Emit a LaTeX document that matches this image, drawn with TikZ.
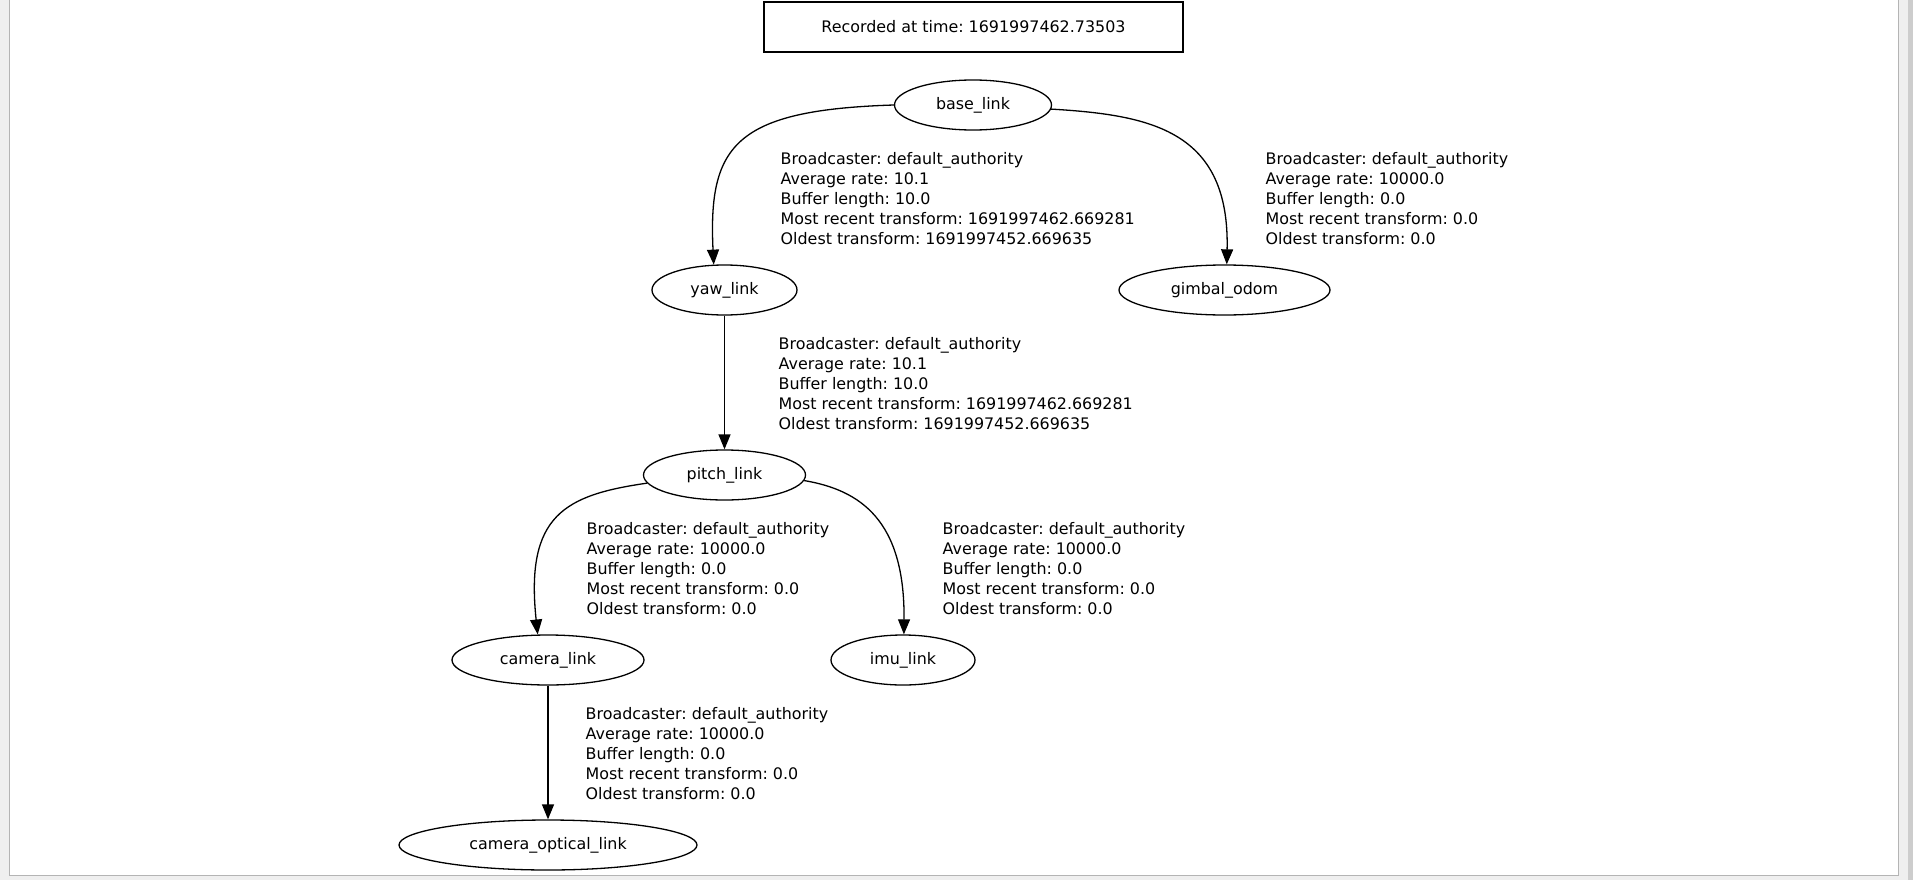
\documentclass[tikz,border=0pt]{standalone}
\usepackage{fontspec}
\setmainfont{DejaVu Sans}
\frenchspacing
\usetikzlibrary{shapes.geometric,arrows.meta}
\definecolor{panelgray}{HTML}{EFEFEF}
\definecolor{frameline}{HTML}{B4B4B4}
\definecolor{scrollgray}{HTML}{CDCDCD}
\begin{document}
\begin{tikzpicture}[x=1pt,y=-1pt,
  every node/.style={font=\fontsize{15.9pt}{20pt}\selectfont},
  link/.style={ellipse, draw, line width=1.3pt, minimum height=50pt, inner sep=0pt},
  titlebox/.style={rectangle, draw, line width=1.3pt, minimum width=419pt, minimum height=50pt, inner sep=0pt},
  tflabel/.style={anchor=north west, inner sep=0pt, align=left},
  tfedge/.style={draw, line width=1.3pt, -{Triangle[length=15pt,width=12pt]}}]
\useasboundingbox (0,0) rectangle (1913,880);

% window background and panel
\fill[panelgray] (0,0) rectangle (1913,880);
\fill[white] (10,0) rectangle (1898,875);
\draw[frameline, line width=1.5pt] (9.5,0) -- (9.5,875.5) -- (1898.5,875.5) -- (1898.5,0);
\fill[scrollgray] (1908,0) rectangle (1913,880);

% header
\node[titlebox] (title) at (973.5,27) {Recorded at time: 1691997462.73503};

% frames
\node[link, minimum width=157pt] (base) at (973,105) {base\_link};
\node[link, minimum width=145pt] (yaw) at (724.5,290) {yaw\_link};
\node[link, minimum width=211pt] (gimbal) at (1224.5,290) {gimbal\_odom};
\node[link, minimum width=162pt] (pitch) at (724.5,475) {pitch\_link};
\node[link, minimum width=192pt] (camera) at (548,660) {camera\_link};
\node[link, minimum width=144pt] (imu) at (903,660) {imu\_link};
\node[link, minimum width=298pt] (optical) at (548,845) {camera\_optical\_link};

% transforms
\draw[tfedge] (base.west) .. controls (735,110) and (708,145) .. (yaw.113);
\draw[tfedge] (base.-3) .. controls (1150,115) and (1230,130) .. (gimbal.85);
\draw[tfedge] (yaw.south) -- (pitch.north);
\draw[tfedge] (pitch.186) .. controls (565,495) and (525,515) .. (camera.112);
\draw[tfedge] (pitch.-4) .. controls (860,490) and (905,520) .. (imu.88);
\draw[tfedge] (camera.south) -- (optical.north);

% transform statistics
\node[tflabel] (lbyaw) at (780.5,152) {Broadcaster: default\_authority\\Average rate: 10.1\\Buffer length: 10.0\\Most recent transform: 1691997462.669281\\Oldest transform: 1691997452.669635};
\node[tflabel] (lbgimbal) at (1265.5,152) {Broadcaster: default\_authority\\Average rate: 10000.0\\Buffer length: 0.0\\Most recent transform: 0.0\\Oldest transform: 0.0};
\node[tflabel] (lbpitch) at (778.5,337) {Broadcaster: default\_authority\\Average rate: 10.1\\Buffer length: 10.0\\Most recent transform: 1691997462.669281\\Oldest transform: 1691997452.669635};
\node[tflabel] (lbcamera) at (586.5,522) {Broadcaster: default\_authority\\Average rate: 10000.0\\Buffer length: 0.0\\Most recent transform: 0.0\\Oldest transform: 0.0};
\node[tflabel] (lbimu) at (942.5,522) {Broadcaster: default\_authority\\Average rate: 10000.0\\Buffer length: 0.0\\Most recent transform: 0.0\\Oldest transform: 0.0};
\node[tflabel] (lboptical) at (585.5,707) {Broadcaster: default\_authority\\Average rate: 10000.0\\Buffer length: 0.0\\Most recent transform: 0.0\\Oldest transform: 0.0};
\end{tikzpicture}
\end{document}
